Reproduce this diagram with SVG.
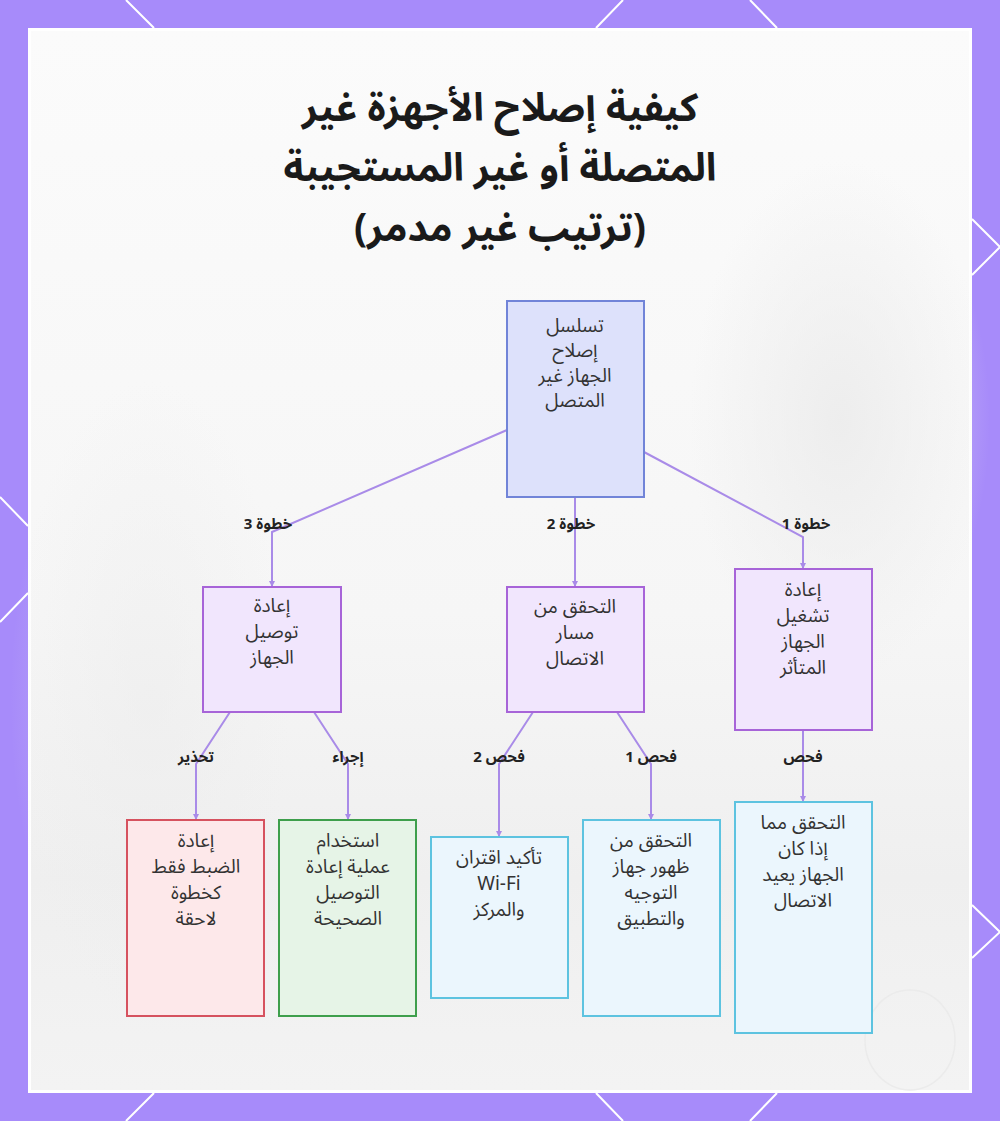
<svg xmlns="http://www.w3.org/2000/svg" width="1000" height="1121" viewBox="0 0 1000 1121">
<defs>
<style>
.t{font-family:"Noto Sans Arabic","DejaVu Sans","Noto Sans",sans-serif;font-size:19px;fill:#333;text-anchor:middle;direction:rtl}
.title{font-family:"Noto Sans Arabic","DejaVu Sans","Noto Sans",sans-serif;font-size:39px;font-weight:bold;fill:#1a1a1a;text-anchor:middle;direction:rtl}
.lbl{font-family:"Noto Sans Arabic","DejaVu Sans","Noto Sans",sans-serif;font-size:15px;font-weight:bold;fill:#222;text-anchor:middle;direction:rtl}
.e{fill:none;stroke:#a98be8;stroke-width:2}
.root{fill:#dde1fb;stroke:#7184d8;stroke-width:2}
.step{fill:#f1e6fd;stroke:#a764d8;stroke-width:2}
.red{fill:#fde8ea;stroke:#d6525f;stroke-width:2}
.green{fill:#e6f4e7;stroke:#3e9f4c;stroke-width:2}
.blue{fill:#ebf6fd;stroke:#5dc3e0;stroke-width:2}
.deco{stroke:#ffffff;stroke-width:2;fill:none}
</style>
<linearGradient id="bg" x1="0" y1="0" x2="0" y2="1">
<stop offset="0" stop-color="#fbfbfb"/>
<stop offset="0.55" stop-color="#f6f6f6"/>
<stop offset="0.8" stop-color="#efefef"/>
<stop offset="1" stop-color="#f3f3f3"/>
</linearGradient>
<radialGradient id="blob" cx="0.5" cy="0.5" r="0.5">
<stop offset="0" stop-color="#ececec" stop-opacity="0.9"/>
<stop offset="1" stop-color="#ececec" stop-opacity="0"/>
</radialGradient>
<marker id="ah" viewBox="0 0 6 6" refX="6" refY="3" markerWidth="3" markerHeight="3" orient="auto">
<path d="M0,0 L6,3 L0,6 z" fill="#a98be8"/>
</marker>
</defs>

<rect x="0" y="0" width="1000" height="1121" fill="#a78bfa"/>
<g id="border-lines">
<path class="deco" d="M126,0 L154,28 M623,0 L596,28 M750,0 L777,28"/>
<path class="deco" d="M154,1093 L126,1121 M596,1093 L623,1121 M777,1093 L750,1121"/>
<path class="deco" d="M0,497 L28,526 M28,593 L0,622"/>
<path class="deco" d="M972,219 L1000,247 L972,275 M972,905 L1000,932 L972,958"/>
</g>
<rect x="28" y="28" width="944" height="1065" fill="#ffffff"/>
<rect x="31" y="31" width="938" height="1059" fill="url(#bg)"/>
<ellipse cx="840" cy="420" rx="150" ry="260" fill="url(#blob)"/>
<ellipse cx="150" cy="700" rx="140" ry="320" fill="url(#blob)" opacity="0.6"/>
<ellipse cx="910" cy="1040" rx="45" ry="50" fill="none" stroke="#ebebeb" stroke-width="1.5"/>

<g id="title">
<text class="title" x="500" y="121">كيفية إصلاح الأجهزة غير</text>
<text class="title" x="500" y="181">المتصلة أو غير المستجيبة</text>
<text class="title" x="500" y="241">(ترتيب غير مدمر)</text>
</g>

<g id="connectors">
<path class="e" d="M507,430 L272,532 L272,587" marker-end="url(#ah)"/>
<path class="e" d="M575,497 L575,587" marker-end="url(#ah)"/>
<path class="e" d="M644,452 L803,537 L803,569" marker-end="url(#ah)"/>
<path class="e" d="M230,712 L196,764 L196,820" marker-end="url(#ah)"/>
<path class="e" d="M314,712 L348,764 L348,820" marker-end="url(#ah)"/>
<path class="e" d="M533,712 L499,764 L499,837" marker-end="url(#ah)"/>
<path class="e" d="M617,712 L651,764 L651,820" marker-end="url(#ah)"/>
<path class="e" d="M803,730 L803,802" marker-end="url(#ah)"/>
<g id="edge-labels">
<text class="lbl" x="268" y="529">خطوة 3</text>
<text class="lbl" x="571" y="529">خطوة 2</text>
<text class="lbl" x="806" y="529">خطوة 1</text>
<text class="lbl" x="196" y="762">تحذير</text>
<text class="lbl" x="348" y="762">إجراء</text>
<text class="lbl" x="499" y="762">فحص 2</text>
<text class="lbl" x="651" y="762">فحص 1</text>
<text class="lbl" x="803" y="762">فحص</text>
</g>
</g>

<g id="root">
<rect class="root" x="507" y="301" width="137" height="196"/>
<text class="t" x="575" y="332">تسلسل</text>
<text class="t" x="575" y="357">إصلاح</text>
<text class="t" x="575" y="382">الجهاز غير</text>
<text class="t" x="575" y="407">المتصل</text>
</g>

<g id="step3">
<rect class="step" x="203" y="587" width="138" height="125"/>
<text class="t" x="272" y="612">إعادة</text>
<text class="t" x="272" y="638">توصيل</text>
<text class="t" x="272" y="664">الجهاز</text>
</g>

<g id="step2">
<rect class="step" x="507" y="587" width="137" height="125"/>
<text class="t" x="575" y="613">التحقق من</text>
<text class="t" x="575" y="639">مسار</text>
<text class="t" x="575" y="665">الاتصال</text>
</g>

<g id="step1">
<rect class="step" x="735" y="569" width="137" height="161"/>
<text class="t" x="803" y="596">إعادة</text>
<text class="t" x="803" y="622">تشغيل</text>
<text class="t" x="803" y="648">الجهاز</text>
<text class="t" x="803" y="674">المتأثر</text>
</g>

<g id="warn">
<rect class="red" x="127" y="820" width="137" height="196"/>
<text class="t" x="196" y="847">إعادة</text>
<text class="t" x="196" y="873">الضبط فقط</text>
<text class="t" x="196" y="899">كخطوة</text>
<text class="t" x="196" y="925">لاحقة</text>
</g>

<g id="action">
<rect class="green" x="279" y="820" width="137" height="196"/>
<text class="t" x="348" y="847">استخدام</text>
<text class="t" x="348" y="873">عملية إعادة</text>
<text class="t" x="348" y="899">التوصيل</text>
<text class="t" x="348" y="925">الصحيحة</text>
</g>

<g id="check2">
<rect class="blue" x="431" y="837" width="137" height="161"/>
<text class="t" x="499" y="864">تأكيد اقتران</text>
<text class="t" x="499" y="890">Wi-Fi</text>
<text class="t" x="499" y="916">والمركز</text>
</g>

<g id="check1">
<rect class="blue" x="583" y="820" width="137" height="196"/>
<text class="t" x="651" y="847">التحقق من</text>
<text class="t" x="651" y="873">ظهور جهاز</text>
<text class="t" x="651" y="899">التوجيه</text>
<text class="t" x="651" y="925">والتطبيق</text>
</g>

<g id="check">
<rect class="blue" x="735" y="802" width="137" height="231"/>
<text class="t" x="803" y="829">التحقق مما</text>
<text class="t" x="803" y="855">إذا كان</text>
<text class="t" x="803" y="881">الجهاز يعيد</text>
<text class="t" x="803" y="907">الاتصال</text>
</g>
</svg>
